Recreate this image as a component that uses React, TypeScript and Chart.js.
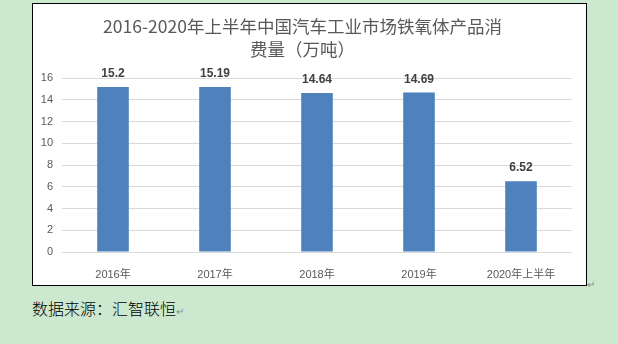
import React, { useEffect, useRef } from "react";
import { Chart, registerables } from "chart.js";

Chart.register(...registerables);

const categories = ["2016年", "2017年", "2018年", "2019年", "2020年上半年"];
const values = [15.2, 15.19, 14.64, 14.69, 6.52];
const valueLabels = ["15.2", "15.19", "14.64", "14.69", "6.52"];
const titleLines = ["2016-2020年上半年中国汽车工业市场铁氧体产品消", "费量（万吨）"];
const yMin = 0;
const yMax = 16;
const yStep = 2;
const sourceText = "数据来源：汇智联恒";

const FONT = '"Liberation Sans", "Noto Sans CJK SC", sans-serif';
const CJK_FONT = '"Noto Sans CJK SC", "Liberation Sans", sans-serif';

const labelPlugin = {
  id: "valueLabels",
  afterDatasetsDraw(chart: any) {
    const ctx = chart.ctx;
    const meta = chart.getDatasetMeta(0);
    ctx.save();
    ctx.font = "bold 12px " + FONT;
    ctx.fillStyle = "#404040";
    ctx.textAlign = "center";
    ctx.textBaseline = "middle";
    meta.data.forEach((bar: any, i: number) => {
      ctx.fillText(valueLabels[i], bar.x, bar.y - 13);
    });
    ctx.restore();
  },
};

export default function App() {
  const ref = useRef<HTMLCanvasElement>(null);
  useEffect(() => {
    if (!ref.current) return;
    const chart = new Chart(ref.current, {
      type: "bar",
      data: {
        labels: categories,
        datasets: [
          {
            data: values,
            backgroundColor: "#4f81bd",
            borderWidth: 0,
            categoryPercentage: 1,
            barPercentage: 0.31,
          },
        ],
      },
      options: {
        animation: false,
        responsive: false,
        devicePixelRatio: 1,
        layout: { padding: { left: 0, right: 14, top: 0, bottom: 0 } },
        plugins: {
          legend: { display: false },
          tooltip: { enabled: false },
          title: {
            display: true,
            text: titleLines,
            color: "#595959",
            font: { size: 17.5, family: CJK_FONT, weight: "normal", lineHeight: 1.32 },
            padding: { top: 11, bottom: 17 },
          },
        },
        scales: {
          x: {
            grid: { display: false },
            border: { display: false },
            ticks: { color: "#595959", font: { size: 11, family: FONT }, padding: 8 },
            afterFit(scale: any) {
              scale.height = 33;
            },
          },
          y: {
            min: yMin,
            max: yMax,
            ticks: { stepSize: yStep, color: "#595959", font: { size: 11, family: FONT }, padding: 9 },
            grid: { color: "#d9d9d9", drawTicks: false },
            border: { display: false },
            afterFit(scale: any) {
              scale.width = 29;
            },
          },
        },
      },
      plugins: [labelPlugin],
    });
    return () => chart.destroy();
  }, []);

  return (
    <div
      style={{
        position: "fixed",
        left: 0,
        top: 0,
        width: 618,
        height: 344,
        background: "#cce8cf",
        overflow: "hidden",
      }}
    >
      <div
        style={{
          position: "absolute",
          left: 32,
          top: 3,
          width: 553,
          height: 281,
          border: "1px solid #000",
          background: "#fff",
        }}
      >
        <canvas ref={ref} width={553} height={281} style={{ display: "block" }} />
      </div>
      <span
        style={{
          position: "absolute",
          left: 587,
          top: 276,
          fontSize: 10,
          color: "#888",
          fontFamily: CJK_FONT,
        }}
      >
        ↵
      </span>
      <div
        style={{
          position: "absolute",
          left: 32,
          top: 299,
          fontSize: 16,
          lineHeight: "18px",
          fontFamily: CJK_FONT,
          fontWeight: 300,
          color: "#000",
          whiteSpace: "nowrap",
        }}
      >
        {sourceText}
        <span style={{ fontSize: 10, color: "#888" }}>↵</span>
      </div>
    </div>
  );
}
